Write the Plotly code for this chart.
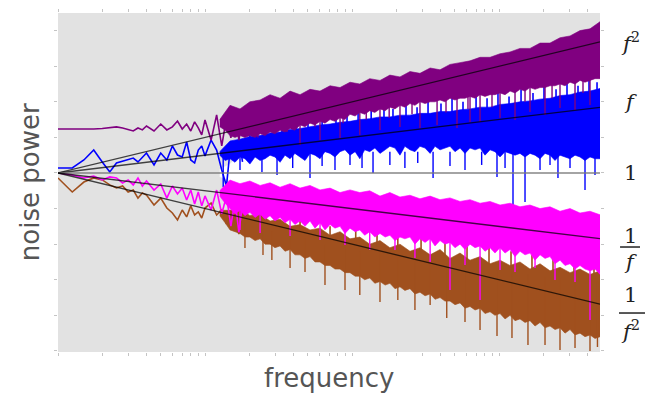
import plotly.graph_objects as go

# ---------------- data (frequency in arbitrary units, power in dB) ----------------
ref_f = [1, 4864]
ref_end_db = [73.7, 36.9, 0.0, -36.9, -73.7]   # f^2, f, 1, 1/f, 1/f^2

low_f = [1, 1.25, 1.5, 1.75, 2, 2.25, 2.5, 2.75, 3, 3.25, 3.5, 3.75, 4, 4.5, 5, 5.5,
         6, 6.5, 7, 7.5, 8, 8.5, 9, 9.5, 10, 11, 12, 13, 14, 15, 16, 17, 18]
violet_low_db = [24.7, 24.7, 24.4, 24.7, 25.0, 25.3, 25.9, 25.3, 24.2, 23.6, 25.3, 24.2, 26.4,
                 23.6, 27.5, 24.2, 25.9, 29.2, 24.7, 27.5, 23.6, 28.7, 25.3, 21.4, 29.8, 18.5,
                 32.6, 15.2, 30.9, 19.7, 35.4, 18.5, 30.9]
blue_low_db = [2.8, 2.8, 7.3, 12.9, 6.2, 0.6, 5.6, 6.7, 7.9, 8.4, 6.2, 9.0, 11.2, 4.5, 11.2,
               7.3, 15.2, 10.1, 9.0, 17.4, 7.3, 5.6, 12.9, 15.2, 9.6, 18.5, 12.9, 1.7, -7.3,
               17.4, 7.3, 19.7, 6.2]
pink_low_db = [0, -1.1, -2.8, -1.7, -3.9, -2.2, -2.8, -5.6, -3.9, -6.7, -2.8, -7.3, -4.5, -9.6,
               -6.2, -14.1, -7.3, -11.8, -8.4, -15.2, -9.6, -17.4, -10.7, -18.5, -12.9, -20.8,
               -9.6, -23.0, -12.9, -29.8, -15.2, -33.2, -17.4]
brown_low_db = [-2.8, -10.7, -5.1, -2.8, -3.9, -6.7, -8.4, -7.3, -10.7, -9.6, -14.1, -11.2,
                -12.4, -18.0, -14.1, -19.7, -22.5, -26.4, -20.8, -24.7, -18.5, -23.6, -21.9,
                -25.3, -19.7, -16.9, -23.6, -20.8, -28.7, -21.9, -27.5, -34.3, -23.0]

# dense part: upper edge sampled on a coarse grid, lower edge on a finer grid
top_f = [12.6, 14.8, 17.3, 20.2, 23.7, 27.7, 32.4, 37.9, 44.3, 51.8, 60.6, 70.9, 82.9, 96.9,
         113, 132, 155, 181, 212, 248, 290, 340, 397, 464, 543, 635, 743, 869, 1016, 1188,
         1389, 1625, 1901, 2223, 2600, 3041, 3556, 4159, 4864]
bot_f = [12.6, 13.7, 14.8, 16.0, 17.3, 18.7, 20.2, 21.9, 23.7, 25.6,
         27.7, 29.9, 32.4, 35.0, 37.9, 40.9, 44.3, 47.9, 51.8, 56.0,
         60.6, 65.5, 70.9, 76.6, 82.9, 89.6, 96.9, 105, 113, 122,
         132, 143, 155, 168, 181, 196, 212, 229, 248, 268,
         290, 314, 340, 367, 397, 429, 464, 502, 543, 587,
         635, 687, 743, 803, 869, 939, 1016, 1099, 1188, 1285,
         1389, 1503, 1625, 1758, 1901, 2056, 2223, 2404, 2600, 2812,
         3041, 3289, 3556, 3846, 4159, 4498, 4864]

violet_top_db = [30, 38, 36, 40, 41, 44, 42, 46, 44, 47, 46, 49, 48, 51, 50, 53, 52, 55, 54, 57,
                 56, 59, 58, 61, 62, 63, 65, 65, 67, 68, 70, 70, 73, 73, 76, 77, 80, 81, 85]
violet_bot_db = [26, 24, 21, 20, 21, 20, 21, 20, 22, 21,
                 23, 22, 24, 23, 25, 24, 27, 26, 28, 27,
                 29, 28, 30, 29, 31, 30, 33, 32, 34, 33,
                 35, 34, 36, 35, 37, 36, 38, 37, 39, 38,
                 40, 39, 40, 40, 41, 40, 42, 41, 42, 42,
                 43, 42, 44, 43, 44, 44, 45, 44, 46, 45,
                 47, 46, 48, 47, 48, 48, 49, 49, 50, 49,
                 51, 50, 52, 51, 52, 53, 53]
blue_top_db = [12, 18, 19, 20.5, 21, 22.5, 23, 24.5, 25, 26, 27, 27.5, 28.5, 29, 30, 30.5, 31.5,
               31.5, 32.5, 32.5, 33.5, 33.5, 34.5, 34.5, 35.5, 36, 37, 37, 38.5, 39, 40, 40.5,
               41.5, 42, 43.5, 44, 45.5, 46, 47.5]
blue_bot_db = [10, 7, 8, 6, 9, 8, 5, 9, 7, 8,
               10, 9, 6, 10, 8, 11, 9, 7, 11, 10,
               8, 12, 11, 9, 12, 13, 10, 12, 8, 13,
               12, 14, 11, 13, 15, 14, 10, 15, 13, 12,
               15, 14, 11, 15, 13, 14, 15, 12, 14, 11,
               14, 13, 14, 10, 13, 12, 9, 12, 11, 10,
               11, 9, 11, 10, 8, 11, 10, 7, 10, 9,
               8, 10, 9, 7, 9, 8, 8]
white_top_db = [2, 5, 10, 22, 26.4, 28.7, 29.8, 30.9, 32.0, 34.3, 34.8, 36.5, 37.7,
                38.8, 39.9, 41.0, 42.2, 42.7, 43.8, 45.0, 45.5, 46.6, 47.2, 47.8, 48.3, 49.5,
                50.0, 50.6, 51.1, 51.7, 52.3, 52.8, 53.4, 54.0, 54.5, 55.1, 55.6, 56.2, 56.8]
white_bot_db = [-2, -4, -8, -22, -27.0, -29.2, -30.3, -31.5, -33.7, -34.3, -36.0,
                -37.1, -38.2, -39.3, -40.5, -41.6, -42.7, -43.8, -44.4, -45.5, -46.1, -47.2,
                -47.8, -48.9, -49.5, -50.6, -51.1, -52.3, -52.8, -53.4, -54.5, -55.1, -55.6,
                -56.2, -56.8, -57.3, -57.9, -58.4, -59.0]
pink_top_db = [-10, -4, -6, -4.5, -7, -5.5, -8, -6, -8.5, -7, -9.5, -8.5, -11, -9.5, -11, -10,
               -13, -11, -13.5, -12.5, -14.5, -13, -15, -14, -16, -15, -17, -16, -18, -17, -19,
               -18, -20, -19, -21.5, -20, -22.5, -21.5, -23.5]
pink_bot_db = [-13, -17, -20, -23, -21, -24, -22, -25, -23, -26,
               -24, -27, -25, -28, -26, -29, -27, -30, -27, -31,
               -28, -32, -29, -31, -30, -34, -31, -33, -32, -35,
               -33, -36, -34, -36, -35, -38, -36, -37, -36, -40,
               -37, -39, -37, -41, -38, -40, -39, -42, -40, -43,
               -40, -42, -41, -44, -42, -45, -42, -45, -43, -47,
               -44, -46, -45, -49, -46, -48, -47, -51, -49, -52,
               -51, -54, -52, -54, -55, -54, -57]
brown_top_db = [-21, -21, -20, -24, -23, -27, -26, -30, -29, -32, -31, -35, -33, -37, -36, -40,
                -38, -42, -40, -44, -42, -46, -43, -48, -45, -49, -47, -51, -49, -52, -50, -54,
                -51, -55, -53, -56, -54, -57, -55]
brown_bot_db = [-24, -28, -32, -33, -34, -36, -36, -38, -37, -40,
                -40, -42, -41, -44, -43, -46, -46, -48, -47, -50,
                -50, -52, -52, -54, -54, -56, -56, -58, -58, -60,
                -59, -62, -61, -63, -62, -65, -64, -66, -65, -68,
                -67, -69, -68, -71, -70, -72, -72, -74, -73, -76,
                -75, -77, -76, -79, -78, -80, -79, -82, -80, -83,
                -82, -84, -83, -86, -84, -87, -86, -88, -87, -90,
                -88, -91, -90, -92, -91, -93, -92]

# isolated narrow excursions: frequency, level inside the band, level reached
violet_dip_f = [44.3, 60.6, 82.9, 113, 155, 212, 290, 379, 518, 635, 743, 1016, 1285, 1625,
                2056, 2600, 3289, 4159,
                22.9, 36.1, 56.0, 86.9, 125, 179, 256, 436, 615, 896, 1503, 2295, 3727]
violet_dip_from_db = [30, 32, 35, 38, 40, 44, 46, 48, 50, 52, 52, 55, 56, 58, 60, 62, 64, 66,
                      25, 27, 30, 34, 36, 40, 41, 44, 46, 48, 50, 52, 55]
violet_dip_db = [15.7, 18.5, 19.7, 21.4, 24.2, 25.9, 25.3, 27.0, 25.3, 28.7, 28.7, 30.9, 29.8,
                 34.3, 32.6, 36.5, 35.4, 38.2,
                 20, 23, 26, 28, 30, 31, 33, 34, 36, 37, 40, 42, 45]
blue_rise_f = [20.2, 25.6, 33.4, 41.6, 50.2, 62.6, 77.8, 92.5, 110, 135, 165, 190, 233, 277,
               329, 403, 479, 569, 698, 829, 984, 1170, 1412, 1703, 2023, 2443, 2901, 3447,
               4095, 4643]
blue_rise_from_db = [18.5, 19.5, 21, 22.5, 23.5, 25, 26, 26.7, 27.8, 28.5, 29.5, 29.5, 30.5,
                     31, 31.5, 32.5, 32.5, 33.5, 34.5, 35, 36.5, 37, 38, 38.5, 39.5, 40.5, 42,
                     43.5, 44, 45.5]
blue_rise_db = [23, 24, 26, 27, 29, 31, 32, 33, 35, 36, 38, 36, 40, 37, 41, 39, 42, 40, 44, 42,
                45, 43, 47, 45, 49, 47, 51, 49, 53, 51]
blue_dip_f = [13.3, 17.3, 24.4, 30.9, 39.5, 51.8, 62.6, 76.6, 96.9, 117, 139, 181, 229, 280,
              356, 464, 587, 762, 969, 1099, 1245, 1503, 1901, 2223, 2518, 3041, 3846, 4498]
blue_dip_from_db = [12] * 28
blue_dip_db = [-7.9, 1.7, 0.6, -1.1, 2.8, -2.8, 3.9, 1.7, 4.5, 2.8, 0, 4.5, 2.8, 5.6, -2.8, 3.9,
               1.7, 4.5, -2.2, 2.8, -18.0, -16.3, 1.7, 4.5, -2.8, 2.8, -9.6, -1.1]
pink_dip_f = [17.3, 23.7, 37.9, 60.6, 89.6, 132, 196, 268, 340, 464, 587, 743, 1016, 1285,
              1758, 2404, 3289, 4159]
pink_dip_from_db = [-14, -15, -17, -19, -21, -22, -24, -25, -26, -27, -28, -29, -30, -31, -32,
                    -34, -35, -36]
pink_dip_db = [-32.0, -33.7, -35.4, -37.7, -40.5, -43.3, -43.3, -47.8, -50.0, -65.7, -51.7,
               -71.4, -54.5, -55.6, -53.4, -60.1, -61.3, -82.6]
brown_rise_f = [44.3, 70.9, 106, 148, 205, 295, 429, 606, 855, 1207, 1676, 2330, 3237, 4427]
brown_rise_from_db = [-32.5, -37, -39.5, -41.5, -43.5, -45.5, -47, -49.5, -51.5, -53, -54.5,
                      -56, -57.5, -58.5]
brown_rise_db = [-27, -30, -32, -34, -36, -37, -39, -41, -42, -44, -46, -48, -52, -54]
brown_dip_f = [18.7, 24.8, 28.5, 37.9, 47.9, 65.5, 89.6, 113, 155, 205, 268, 340, 441, 587,
               743, 969, 1225, 1574, 2056, 2600, 3289, 4159, 4674]
brown_dip_from_db = [-28, -31, -33, -35, -37, -40, -42, -44, -45, -47, -49, -50, -51, -52, -53,
                     -55, -56, -57, -58, -59, -60, -61, -61]
brown_dip_db = [-42.2, -46.1, -48.9, -53.4, -55.6, -62.9, -65.8, -68.6, -72.5, -71.4, -77.0,
                -74.2, -81.5, -83.7, -88.2, -91.6, -92.7, -96.7, -96.7, -99.5, -98.4, -100.0,
                -97.8]

# ---------------- figure ----------------
VIOLET, BLUE, PINK, BROWN = "#800080", "#0000ff", "#ff00ff", "#a0501e"

fig = go.Figure()


def band(xt, top_db, xb, bot_db, color):
    xs = list(xt) + list(xb)[::-1]
    ys = list(top_db) + list(bot_db)[::-1]
    fig.add_trace(go.Scatter(x=xs, y=ys, mode="lines", fill="toself", fillcolor=color,
                             line=dict(color=color, width=0.6), hoverinfo="skip"))


def line(xv, yv, color, width=1.6):
    fig.add_trace(go.Scatter(x=xv, y=yv, mode="lines", line=dict(color=color, width=width),
                             hoverinfo="skip"))


def spikes(fv, fromv, tov, color, width=1.4):
    xs, ys = [], []
    for f, a, b in zip(fv, fromv, tov):
        xs += [f, f, None]
        ys += [a, b, None]
    fig.add_trace(go.Scatter(x=xs, y=ys, mode="lines", line=dict(color=color, width=width),
                             hoverinfo="skip", connectgaps=False))


band(top_f, white_top_db, top_f, white_bot_db, "#ffffff")
band(top_f, blue_top_db, bot_f, blue_bot_db, BLUE)
line(low_f, blue_low_db, BLUE)
spikes(blue_dip_f, blue_dip_from_db, blue_dip_db, BLUE)
spikes(blue_rise_f, blue_rise_from_db, blue_rise_db, BLUE, 1.6)
band(top_f, violet_top_db, bot_f, violet_bot_db, VIOLET)
line(low_f, violet_low_db, VIOLET)
spikes(violet_dip_f, violet_dip_from_db, violet_dip_db, VIOLET)
band(top_f, brown_top_db, bot_f, brown_bot_db, BROWN)
line(low_f, brown_low_db, BROWN)
spikes(brown_dip_f, brown_dip_from_db, brown_dip_db, BROWN)
spikes(brown_rise_f, brown_rise_from_db, brown_rise_db, BROWN, 1.6)
band(top_f, pink_top_db, bot_f, pink_bot_db, PINK)
line(low_f, pink_low_db, PINK)
spikes(pink_dip_f, pink_dip_from_db, pink_dip_db, PINK)

for v in ref_end_db:
    col = "rgba(120,120,120,0.9)" if v == 0 else "rgba(0,0,0,0.72)"
    fig.add_trace(go.Scatter(x=ref_f, y=[0, v], mode="lines", line=dict(color=col, width=1.3),
                             hoverinfo="skip"))

fig.update_xaxes(type="log", range=[0, 3.687], showgrid=False, zeroline=False,
                 showticklabels=False, ticks="outside", ticklen=3, tickcolor="#c4c4c4",
                 dtick="D1", mirror="ticks", showline=False)
fig.update_yaxes(range=[-100.6, 89.9], showgrid=False, zeroline=False, showticklabels=False,
                 ticks="outside", ticklen=3, tickcolor="#c4c4c4", dtick=20, tick0=0,
                 mirror="ticks", showline=False)

ann = []
ann.append(dict(text="noise power", x=-0.0517, y=0.501, xref="paper", yref="paper",
                textangle=-90, showarrow=False, xanchor="center", yanchor="middle",
                font=dict(family="DejaVu Sans", size=26, color="#555555")))
ann.append(dict(text="frequency", x=0.5, y=-0.077, xref="paper", yref="paper",
                showarrow=False, xanchor="center", yanchor="middle",
                font=dict(family="DejaVu Sans", size=26, color="#555555")))
mfont = dict(family="DejaVu Serif", size=21, color="#222222")
math = [("<i>f</i><sup>2</sup>", 0.9145), ("<i>f</i>", 0.7375), ("1", 0.528),
        ("1", 0.342), ("<i>f</i>", 0.2655), ("1", 0.168), ("<i>f</i><sup>2</sup>", 0.0649)]
for t, yy in math:
    ann.append(dict(text=t, x=1.0554, y=yy, xref="paper", yref="paper", showarrow=False,
                    xanchor="center", yanchor="middle", font=mfont))

shapes = [
    dict(type="line", xref="paper", yref="paper", x0=1.037, x1=1.0738, y0=0.3097, y1=0.3097,
         line=dict(color="#222222", width=1.5)),
    dict(type="line", xref="paper", yref="paper", x0=1.035, x1=1.083, y0=0.115, y1=0.115,
         line=dict(color="#222222", width=1.5)),
]

# the page body adds an 8 px offset, so the figure is sized to fit the window
fig.update_layout(width=651, height=386, margin=dict(l=50, r=59, t=5, b=42),
                  paper_bgcolor="#ffffff", plot_bgcolor="#e2e2e2", showlegend=False,
                  annotations=ann, shapes=shapes)

fig.write_html("out.html")
